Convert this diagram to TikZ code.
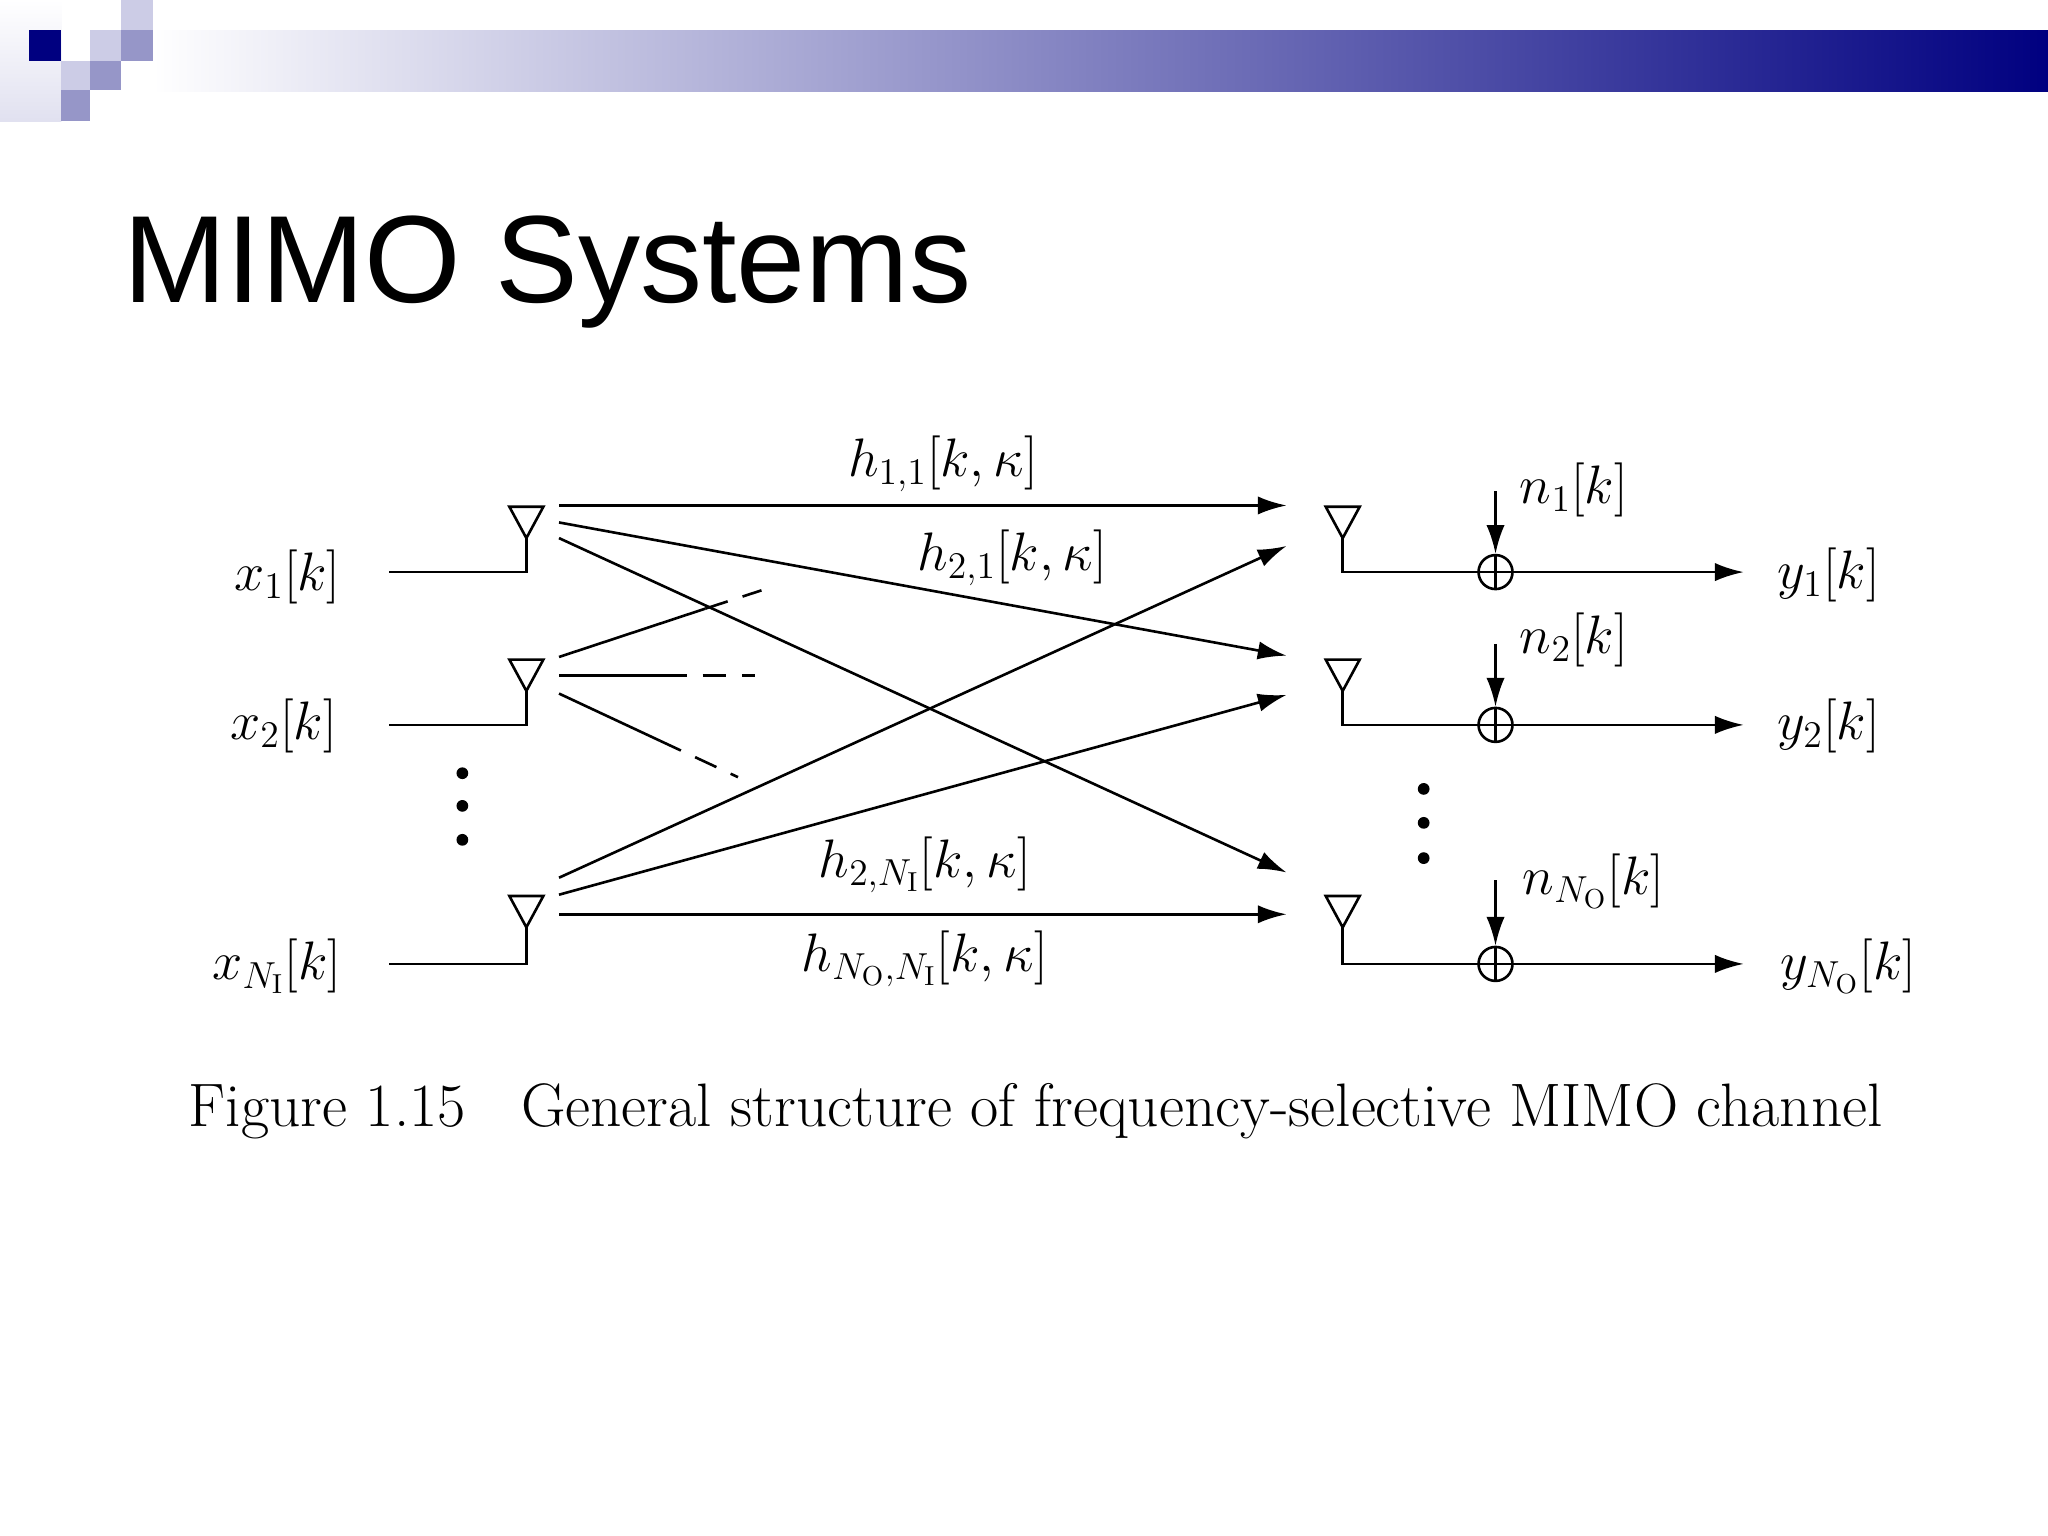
\documentclass[tikz,border=0pt]{standalone}
\usepackage{fontspec}
\setsansfont{Liberation Sans}
\usetikzlibrary{arrows.meta}
\definecolor{navy}{RGB}{0,0,128}
\definecolor{lav1}{RGB}{204,204,230}
\definecolor{lav2}{RGB}{150,150,200}
\begin{document}
\begin{tikzpicture}[x=0.5pt,y=-0.5pt,
  ln/.style={line width=1pt},
  arr/.style={ln,-{Latex[length=11pt,width=7pt]}},
  lbl/.style={inner sep=0pt,font=\fontsize{21}{24}\selectfont},
  dt/.style={circle,fill,inner sep=0pt,minimum size=4.5pt}]
\useasboundingbox (0,0) rectangle (1568,1176);
\fill[white] (0,0) rectangle (1568,1176);
% header
\shade[left color=white,right color=navy] (117,23) rectangle (1568,70);
\shade[top color=white,bottom color=lav1!60] (0,0) rectangle (47,93);
\fill[navy] (22,23) rectangle (47,47);
\fill[lav1] (47,47) rectangle (69,69);
\fill[lav2] (69,47) rectangle (93,69);
\fill[lav1] (69,23) rectangle (93,47);
\fill[lav2] (93,23) rectangle (117,47);
\fill[lav1] (93,0) rectangle (117,23);
\fill[lav2] (47,69) rectangle (69,93);
\node[anchor=west,inner sep=0pt,font=\sffamily\fontsize{47.5}{55}\selectfont] (title) at (94,208) {MIMO Systems};
% tx antennas
\foreach \n/\t/\b in {a/388/438,b/505/555,c/686/738}{
  \draw[ln] (390,\t) -- (416,\t) -- (403,\t+24) -- cycle;
  \coordinate (tx\n) at (403,\t+24);
  \coordinate (in\n) at (298,\b);
  \draw[ln] (tx\n) -- (403,\b) -- (in\n);
}
% rx antennas
\foreach \n/\t/\b in {a/388/438,b/505/555,c/686/738}{
  \draw[ln] (1015,\t) -- (1041,\t) -- (1028,\t+24) -- cycle;
  \node[circle,draw,line width=1pt,minimum size=13pt,inner sep=0pt] (s\n) at (1145,\b) {};
  \coordinate (out\n) at (1335,\b);
  \coordinate (nz\n) at (1145,\t-12);
  \draw[ln] (1028,\t+24) -- (1028,\b) -- (s\n.west);
  \draw[ln] (s\n.north)--(s\n.south) (s\n.west)--(s\n.east);
  \draw[arr] (s\n.east) -- (out\n);
  \draw[arr] (nz\n) -- (s\n.north);
}
% channel lines
\draw[arr] (428,387) -- (985,387);
\draw[arr] (428,400) -- (985,502);
\draw[arr] (428,412) -- (985,668);
\draw[arr] (428,672) -- (985,418);
\draw[arr] (428,685) -- (985,532);
\draw[arr] (428,700) -- (985,700);
\draw[ln] (428,503) -- (540,466);
\draw[ln,dash pattern=on 9pt off 6pt] (540,466) -- (583,452);
\draw[ln] (428,517) -- (508,517);
\draw[ln,dash pattern=on 9pt off 6pt] (508,517) -- (578,517);
\draw[ln] (428,531) -- (505,567);
\draw[ln,dash pattern=on 9pt off 6pt] (505,567) -- (565,595);
% dots
\foreach \y in {592,617,643} \node[dt] at (354,\y) {};
\foreach \y in {604,630,657} \node[dt] at (1090,\y) {};
% labels
\node[lbl] (x1) at (220,442) {$x_1[k]$};
\node[lbl] (x2) at (217,556) {$x_2[k]$};
\node[lbl] (x3) at (212,740) {$x_{N_\mathrm{I}}[k]$};
\node[lbl] (h11) at (722,355) {$h_{1,1}[k,\kappa]$};
\node[lbl] (h21) at (775,427) {$h_{2,1}[k,\kappa]$};
\node[lbl] (h2n) at (708,662) {$h_{2,N_\mathrm{I}}[k,\kappa]$};
\node[lbl] (hnn) at (708,734) {$h_{N_\mathrm{O},N_\mathrm{I}}[k,\kappa]$};
\node[lbl] (n1) at (1205,375) {$n_1[k]$};
\node[lbl] (n2) at (1205,490) {$n_2[k]$};
\node[lbl] (n3) at (1220,675) {$n_{N_\mathrm{O}}[k]$};
\node[lbl] (y1) at (1400,440) {$y_1[k]$};
\node[lbl] (y2) at (1400,556) {$y_2[k]$};
\node[lbl] (y3) at (1415,740) {$y_{N_\mathrm{O}}[k]$};
\node[lbl,font=\fontsize{23.5}{27}\selectfont] (cap) at (793,851) {Figure 1.15\hspace{0.6em} General structure of frequency-selective MIMO channel};
\end{tikzpicture}
\end{document}
